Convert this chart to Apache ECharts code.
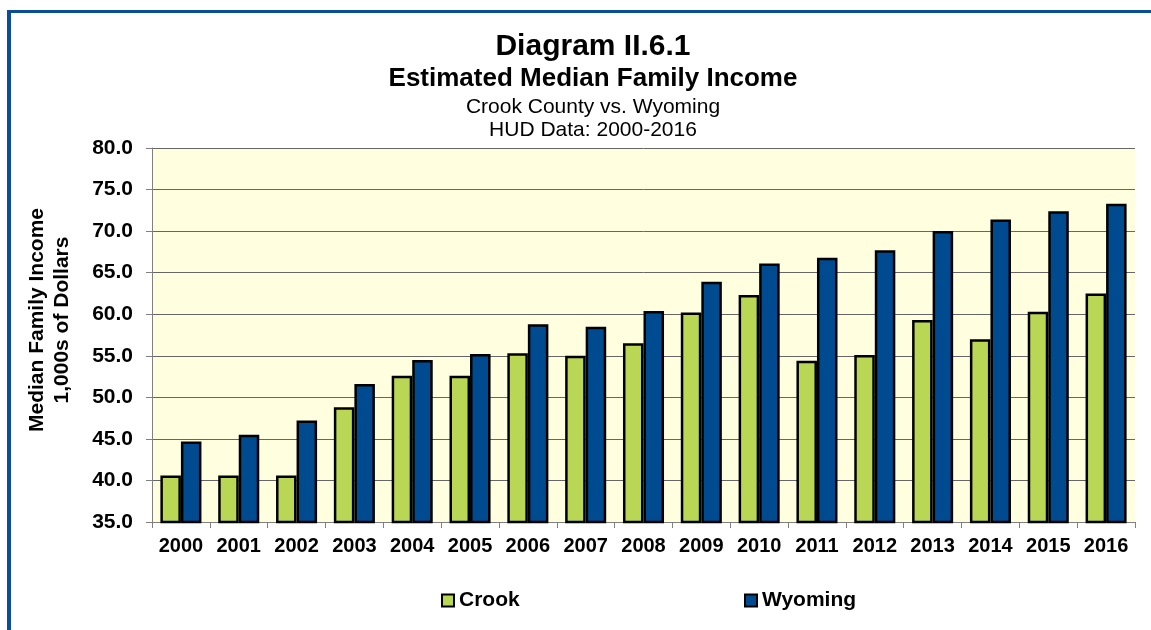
<!DOCTYPE html>
<html>
<head>
<meta charset="utf-8">
<script src="https://cdn.jsdelivr.net/npm/echarts@6/dist/echarts.min.js"></script>
<style>
  html, body { margin: 0; padding: 0; background: #ffffff; }
  #frame { position: absolute; left: 7px; top: 10px; width: 1200px; height: 700px;
           border-top: 3px solid #0B4D96; border-left: 4px solid #0B4D96; box-sizing: border-box; }
  #chart { position: absolute; left: 0; top: 0; width: 1151px; height: 630px; }
</style>
</head>
<body>
<div id="frame"></div>
<div id="chart"></div>
<script>
const years = ['2000','2001','2002','2003','2004','2005','2006','2007','2008','2009','2010','2011','2012','2013','2014','2015','2016'];
const crook = [40.6, 40.6, 40.6, 48.8, 52.6, 52.6, 55.3, 55.0, 56.5, 60.2, 62.3, 54.4, 55.1, 59.3, 57.0, 60.3, 62.5];
const wyoming = [44.7, 45.5, 47.2, 51.6, 54.5, 55.2, 58.8, 58.5, 60.4, 63.9, 66.1, 66.8, 67.7, 70.0, 71.4, 72.4, 73.3];
const yMin = 35, yMax = 80, yStep = 5;

const FONT = 'Liberation Sans, Arial, sans-serif';
const chart = echarts.init(document.getElementById('chart'), null, { renderer: 'canvas' });
const centerX = 588;
chart.setOption({
  animation: false,
  backgroundColor: 'transparent',
  title: [
    { text: 'Diagram II.6.1', left: centerX, top: 27, textAlign: 'center',
      textStyle: { fontFamily: FONT, fontSize: 30, fontWeight: 'bold', color: '#000' } },
    { text: 'Estimated Median Family Income', left: centerX, top: 61, textAlign: 'center',
      textStyle: { fontFamily: FONT, fontSize: 26, fontWeight: 'bold', color: '#000' } },
    { text: 'Crook County vs. Wyoming', left: centerX, top: 92, textAlign: 'center',
      textStyle: { fontFamily: FONT, fontSize: 21, fontWeight: 'normal', color: '#000' } },
    { text: 'HUD Data: 2000-2016', left: centerX, top: 115, textAlign: 'center',
      textStyle: { fontFamily: FONT, fontSize: 21, fontWeight: 'normal', color: '#000' } }
  ],
  graphic: [
    { type: 'text', x: 50, y: 320, rotation: Math.PI / 2,
      style: { text: 'Median Family Income\n1,000s of Dollars', align: 'center', verticalAlign: 'middle',
               font: 'bold 21px ' + FONT, fill: '#000', lineHeight: 25 } }
  ],
  legend: [
    { data: ['Crook'], left: 436, top: 585, itemWidth: 12, itemHeight: 12, itemGap: 5,
      icon: 'rect', textStyle: { fontFamily: FONT, fontSize: 21, fontWeight: 'bold', color: '#000' } },
    { data: ['Wyoming'], left: 739, top: 585, itemWidth: 12, itemHeight: 12, itemGap: 5,
      icon: 'rect', textStyle: { fontFamily: FONT, fontSize: 21, fontWeight: 'bold', color: '#000' } }
  ],
  grid: { left: 152, right: 16, top: 148, bottom: 108, show: true, backgroundColor: '#FFFFE0', borderWidth: 0 },
  xAxis: {
    type: 'category', data: years, boundaryGap: true,
    axisLine: { show: true, lineStyle: { color: '#808080', width: 1 } },
    axisTick: { show: true, interval: 0, alignWithLabel: false, length: 6, lineStyle: { color: '#808080' } },
    axisLabel: { interval: 0, margin: 14, fontFamily: FONT, fontSize: 20, fontWeight: 'bold', color: '#000' }
  },
  yAxis: {
    type: 'value', min: yMin, max: yMax, interval: yStep,
    axisLine: { show: true, lineStyle: { color: '#808080', width: 1 } },
    axisTick: { show: true, length: 6, lineStyle: { color: '#808080' } },
    splitLine: { show: true, lineStyle: { color: '#666666', width: 1 } },
    axisLabel: { margin: 19, fontFamily: FONT, fontSize: 21, fontWeight: 'bold', color: '#000',
                 formatter: v => v.toFixed(1) }
  },
  series: [
    { name: 'Crook', type: 'bar', data: crook, barGap: '0%', barCategoryGap: '29%',
      itemStyle: { color: '#B9D654', borderColor: '#000', borderWidth: 2.5 } },
    { name: 'Wyoming', type: 'bar', data: wyoming, barGap: '0%', barCategoryGap: '29%',
      itemStyle: { color: '#004A90', borderColor: '#000', borderWidth: 2.5 } }
  ]
});
</script>
</body>
</html>
